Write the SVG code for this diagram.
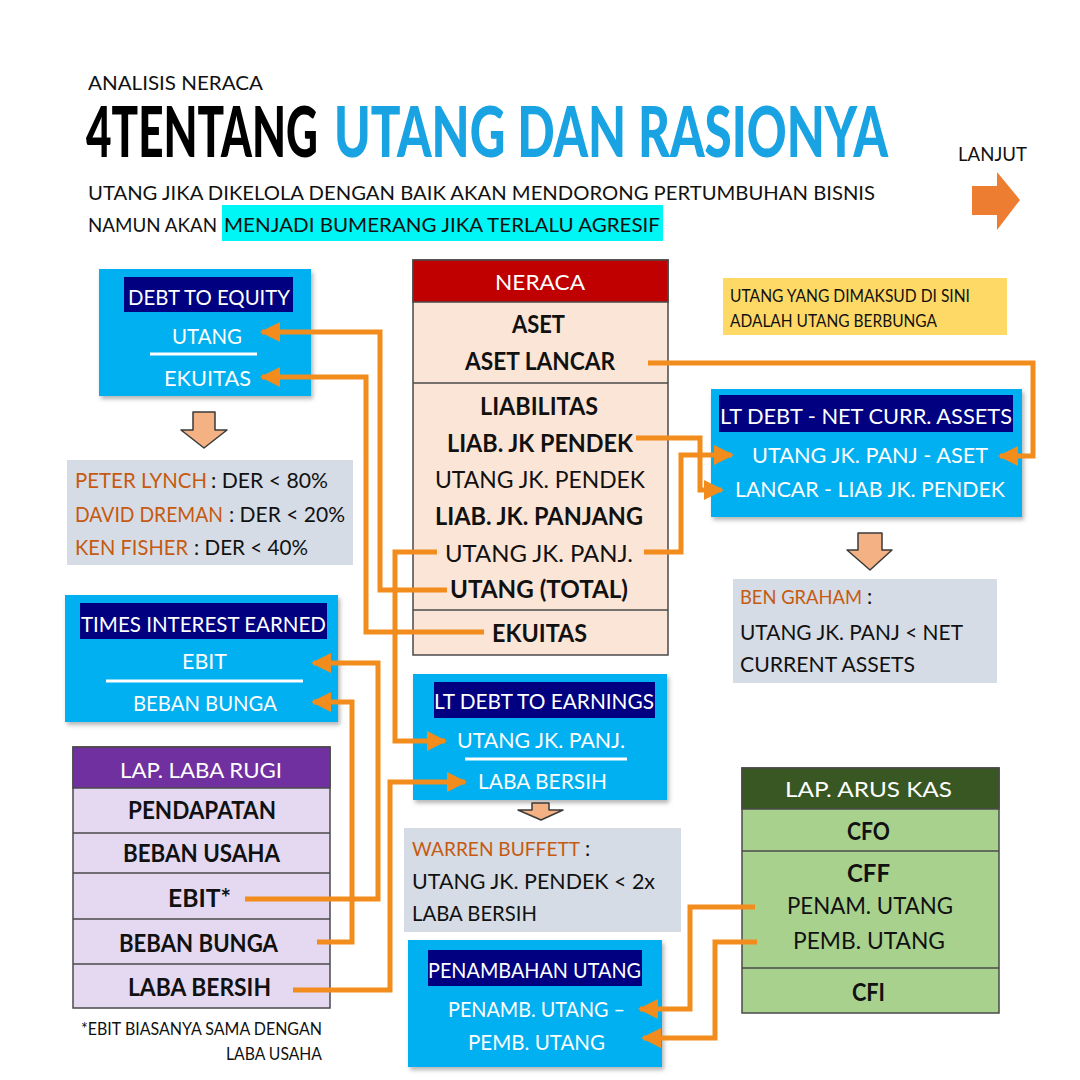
<svg xmlns="http://www.w3.org/2000/svg" width="1080" height="1080" viewBox="0 0 1080 1080">
<defs>
<style>
text{font-family:"Lato","Liberation Sans",sans-serif;}
.w{fill:#fff;}
.k{fill:#111;}
.o{fill:#C55A11;}
.b{font-weight:bold;}
.t24{font-size:24px;}
.t22{font-size:22px;}
.t20{font-size:21px;}
.t17{font-size:17px;}
.blue{fill:#00B0F0;}
.navy{fill:#000080;}
.grey{fill:#D6DCE5;}
.tbl{stroke:#4a4a4a;stroke-width:1.5;}
.sep{stroke:#4a4a4a;stroke-width:1.5;}
.frac{stroke:#fff;stroke-width:3;}
.con{fill:none;stroke:#F18C1D;stroke-width:5;marker-end:url(#ah);}
.down{fill:#F4B183;stroke:#3a3a3a;stroke-width:1.5;stroke-linejoin:round;}
</style>
<marker id="ah" viewBox="0 0 10 10" refX="9" refY="5" markerUnits="userSpaceOnUse" markerWidth="22" markerHeight="20" orient="auto">
<path d="M0,0 L10,5 L0,10 Z" fill="#F18C1D"/>
</marker>
<filter id="sh" x="-5%" y="-5%" width="115%" height="120%">
<feDropShadow dx="2" dy="3" stdDeviation="2" flood-color="#777" flood-opacity="0.55"/>
</filter>
</defs>
<rect width="1080" height="1080" fill="#fff"/>

<g id="header">
<text x="88" y="90" class="k" font-size="19" textLength="175" lengthAdjust="spacingAndGlyphs">ANALISIS NERACA</text>
<text transform="translate(86,157) scale(1,1.42)" x="0" y="0" fill="#000" font-size="50" font-weight="900" textLength="232" lengthAdjust="spacingAndGlyphs">4TENTANG</text>
<text transform="translate(334,157) scale(1,1.42)" x="0" y="0" fill="#19A3E3" font-size="50" font-weight="900" textLength="554" lengthAdjust="spacingAndGlyphs">UTANG DAN RASIONYA</text>
<text x="88" y="200" class="k" font-size="20" textLength="787" lengthAdjust="spacingAndGlyphs">UTANG JIKA DIKELOLA DENGAN BAIK AKAN MENDORONG PERTUMBUHAN BISNIS</text>
<rect x="222" y="205" width="441" height="36" fill="#00F5F5"/>
<text x="88" y="232" class="k" font-size="20" textLength="129" lengthAdjust="spacingAndGlyphs">NAMUN AKAN</text>
<text x="224" y="232" class="k" font-size="20" textLength="436" lengthAdjust="spacingAndGlyphs">MENJADI BUMERANG JIKA TERLALU AGRESIF</text>
</g>

<g id="lanjut">
<text x="958" y="161" class="k" font-size="20" textLength="69" lengthAdjust="spacingAndGlyphs">LANJUT</text>
<polygon points="972,186 997,186 997,172 1020,200 997,230 997,215 972,215" fill="#ED7D31"/>
</g>

<g id="der">
<rect x="99" y="269" width="212" height="127" class="blue" filter="url(#sh)"/>
<rect x="124" y="277" width="169" height="35" class="navy"/>
<text x="128" y="305" class="w t22" textLength="162" lengthAdjust="spacingAndGlyphs">DEBT TO EQUITY</text>
<text x="172" y="344" class="w t22" textLength="70" lengthAdjust="spacingAndGlyphs">UTANG</text>
<line x1="150" y1="354" x2="257" y2="354" class="frac"/>
<text x="164" y="386" class="w t22" textLength="87" lengthAdjust="spacingAndGlyphs">EKUITAS</text>
</g>
<polygon class="down" points="193,412 215,412 215,430 227,430 204,448 181,430 193,430"/>

<g id="der-investors">
<rect x="67" y="460" width="286" height="105" class="grey"/>
<text x="75" y="488" class="o t20" textLength="132" lengthAdjust="spacingAndGlyphs">PETER LYNCH</text>
<text x="211" y="488" class="k t20" textLength="117" lengthAdjust="spacingAndGlyphs">: DER &lt; 80%</text>
<text x="75" y="522" class="o t20" textLength="148" lengthAdjust="spacingAndGlyphs">DAVID DREMAN</text>
<text x="229" y="522" class="k t20" textLength="116" lengthAdjust="spacingAndGlyphs">: DER &lt; 20%</text>
<text x="75" y="555" class="o t20" textLength="113" lengthAdjust="spacingAndGlyphs">KEN FISHER</text>
<text x="194" y="555" class="k t20" textLength="114" lengthAdjust="spacingAndGlyphs">: DER &lt; 40%</text>
</g>

<g id="neraca">
<rect x="413" y="260" width="255" height="395" fill="#FBE5D6" class="tbl"/>
<rect x="413" y="260" width="255" height="42" fill="#C00000" class="tbl"/>
<line x1="413" y1="383" x2="668" y2="383" class="sep"/>
<line x1="413" y1="610" x2="668" y2="610" class="sep"/>
<text x="495" y="290" class="w t22" textLength="90" lengthAdjust="spacingAndGlyphs">NERACA</text>
<text x="512" y="333" class="k t24 b" textLength="53" lengthAdjust="spacingAndGlyphs">ASET</text>
<text x="465" y="370" class="k t24 b" textLength="150" lengthAdjust="spacingAndGlyphs">ASET LANCAR</text>
<text x="480" y="415" class="k t24 b" textLength="118" lengthAdjust="spacingAndGlyphs">LIABILITAS</text>
<text x="447" y="452" class="k t24 b" textLength="186" lengthAdjust="spacingAndGlyphs">LIAB. JK PENDEK</text>
<text x="435" y="488" class="k t24" textLength="210" lengthAdjust="spacingAndGlyphs">UTANG JK. PENDEK</text>
<text x="435" y="525" class="k t24 b" textLength="208" lengthAdjust="spacingAndGlyphs">LIAB. JK. PANJANG</text>
<text x="445" y="562" class="k t24" textLength="188" lengthAdjust="spacingAndGlyphs">UTANG JK. PANJ.</text>
<text x="450" y="598" class="k t24 b" textLength="178" lengthAdjust="spacingAndGlyphs">UTANG (TOTAL)</text>
<text x="492" y="642" class="k t24 b" textLength="95" lengthAdjust="spacingAndGlyphs">EKUITAS</text>
</g>

<g id="note">
<rect x="723" y="278" width="284" height="57" fill="#FFD966"/>
<text x="730" y="302" class="k t17" textLength="240" lengthAdjust="spacingAndGlyphs">UTANG YANG DIMAKSUD DI SINI</text>
<text x="730" y="327" class="k t17" textLength="207" lengthAdjust="spacingAndGlyphs">ADALAH UTANG BERBUNGA</text>
</g>

<g id="ltdebt-nca">
<rect x="711" y="389" width="311" height="128" class="blue" filter="url(#sh)"/>
<rect x="719" y="395" width="294" height="37" class="navy"/>
<text x="720" y="424" class="w t22" textLength="292" lengthAdjust="spacingAndGlyphs">LT DEBT - NET CURR. ASSETS</text>
<text x="752" y="463" class="w t22" textLength="236" lengthAdjust="spacingAndGlyphs">UTANG JK. PANJ - ASET</text>
<text x="735" y="497" class="w t22" textLength="270" lengthAdjust="spacingAndGlyphs">LANCAR - LIAB JK. PENDEK</text>
</g>
<polygon class="down" points="858,533 882,533 882,550 892,550 870,570 847,550 858,550"/>

<g id="ben-graham">
<rect x="733" y="579" width="264" height="104" class="grey"/>
<text x="740" y="604" class="o" font-size="19" textLength="122" lengthAdjust="spacingAndGlyphs">BEN GRAHAM</text>
<text x="867" y="604" class="k t20">:</text>
<text x="740" y="640" class="k t20" textLength="223" lengthAdjust="spacingAndGlyphs">UTANG JK. PANJ &lt; NET</text>
<text x="740" y="672" class="k t20" textLength="175" lengthAdjust="spacingAndGlyphs">CURRENT ASSETS</text>
</g>

<g id="tie">
<rect x="65" y="595" width="273" height="127" class="blue" filter="url(#sh)"/>
<rect x="80" y="603" width="247" height="36" class="navy"/>
<text x="81" y="632" class="w t22" textLength="245" lengthAdjust="spacingAndGlyphs">TIMES INTEREST EARNED</text>
<text x="182" y="669" class="w t22" textLength="45" lengthAdjust="spacingAndGlyphs">EBIT</text>
<line x1="106" y1="681" x2="303" y2="681" class="frac"/>
<text x="133" y="711" class="w t22" textLength="144" lengthAdjust="spacingAndGlyphs">BEBAN BUNGA</text>
</g>

<g id="laba-rugi">
<rect x="73" y="747" width="257" height="261" fill="#E4D9F1" class="tbl"/>
<rect x="73" y="747" width="257" height="41" fill="#7030A0" class="tbl"/>
<line x1="73" y1="833" x2="330" y2="833" class="sep"/>
<line x1="73" y1="873" x2="330" y2="873" class="sep"/>
<line x1="73" y1="919" x2="330" y2="919" class="sep"/>
<line x1="73" y1="964" x2="330" y2="964" class="sep"/>
<text x="120" y="778" class="w t22" textLength="162" lengthAdjust="spacingAndGlyphs">LAP. LABA RUGI</text>
<text x="128" y="819" class="k t24 b" textLength="148" lengthAdjust="spacingAndGlyphs">PENDAPATAN</text>
<text x="123" y="862" class="k t24 b" textLength="157" lengthAdjust="spacingAndGlyphs">BEBAN USAHA</text>
<text x="168" y="907" class="k t24 b" textLength="63" lengthAdjust="spacingAndGlyphs">EBIT*</text>
<text x="119" y="952" class="k t24 b" textLength="159" lengthAdjust="spacingAndGlyphs">BEBAN BUNGA</text>
<text x="128" y="996" class="k t24 b" textLength="143" lengthAdjust="spacingAndGlyphs">LABA BERSIH</text>
<text x="81" y="1035" class="k t17" textLength="241" lengthAdjust="spacingAndGlyphs">*EBIT BIASANYA SAMA DENGAN</text>
<text x="226" y="1060" class="k t17" textLength="96" lengthAdjust="spacingAndGlyphs">LABA USAHA</text>
</g>

<g id="ltdebt-earnings">
<rect x="413" y="674" width="254" height="126" class="blue" filter="url(#sh)"/>
<rect x="434" y="682" width="221" height="36" class="navy"/>
<text x="434" y="709" class="w t22" textLength="220" lengthAdjust="spacingAndGlyphs">LT DEBT TO EARNINGS</text>
<text x="457" y="748" class="w t22" textLength="168" lengthAdjust="spacingAndGlyphs">UTANG JK. PANJ.</text>
<line x1="465" y1="759" x2="627" y2="759" class="frac"/>
<text x="478" y="789" class="w t22" textLength="129" lengthAdjust="spacingAndGlyphs">LABA BERSIH</text>
</g>
<polygon class="down" points="532,803 549,803 549,810 563,810 541,820 518,810 532,810"/>

<g id="warren-buffett">
<rect x="404" y="828" width="277" height="104" class="grey"/>
<text x="412" y="856" class="o" font-size="19" textLength="168" lengthAdjust="spacingAndGlyphs">WARREN BUFFETT</text>
<text x="585" y="856" class="k t20">:</text>
<text x="412" y="889" class="k t20" textLength="243" lengthAdjust="spacingAndGlyphs">UTANG  JK. PENDEK &lt; 2x</text>
<text x="412" y="921" class="k t20" textLength="125" lengthAdjust="spacingAndGlyphs">LABA BERSIH</text>
</g>

<g id="penambahan-utang">
<rect x="408" y="940" width="254" height="127" class="blue" filter="url(#sh)"/>
<rect x="428" y="950" width="214" height="36" class="navy"/>
<text x="428" y="978" class="w t22" textLength="213" lengthAdjust="spacingAndGlyphs">PENAMBAHAN UTANG</text>
<text x="448" y="1017" class="w t22" textLength="177" lengthAdjust="spacingAndGlyphs">PENAMB. UTANG –</text>
<text x="468" y="1050" class="w t22" textLength="137" lengthAdjust="spacingAndGlyphs">PEMB. UTANG</text>
</g>

<g id="arus-kas">
<rect x="742" y="768" width="257" height="245" fill="#A9D18E" class="tbl"/>
<rect x="742" y="768" width="257" height="41" fill="#385723" class="tbl"/>
<line x1="742" y1="851" x2="999" y2="851" class="sep"/>
<line x1="742" y1="968" x2="999" y2="968" class="sep"/>
<text x="785" y="797" class="w t22" textLength="167" lengthAdjust="spacingAndGlyphs">LAP. ARUS KAS</text>
<text x="847" y="840" class="k t24 b" textLength="43" lengthAdjust="spacingAndGlyphs">CFO</text>
<text x="847" y="882" class="k t24 b" textLength="43" lengthAdjust="spacingAndGlyphs">CFF</text>
<text x="787" y="914" class="k t24" textLength="166" lengthAdjust="spacingAndGlyphs">PENAM. UTANG</text>
<text x="793" y="949" class="k t24" textLength="152" lengthAdjust="spacingAndGlyphs">PEMB. UTANG</text>
<text x="852" y="1001" class="k t24 b" textLength="33" lengthAdjust="spacingAndGlyphs">CFI</text>
</g>

<g id="connectors">
<path class="con" d="M447,590 H380 V332 H262"/>
<path class="con" d="M484,632 H366 V377 H262"/>
<path class="con" d="M437,552 H395 V741 H445"/>
<path class="con" d="M293,990 H390 V782 H465"/>
<path class="con" d="M245,899 H378 V663 H313"/>
<path class="con" d="M317,942 H352 V702 H313"/>
<path class="con" d="M648,363 H1033 V456 H1000"/>
<path class="con" d="M636,438 H700 V490 H722"/>
<path class="con" d="M644,552 H681 V455 H732"/>
<path class="con" d="M755,907 H690 V1009 H640"/>
<path class="con" d="M757,942 H715 V1038 H643"/>
</g>
</svg>
